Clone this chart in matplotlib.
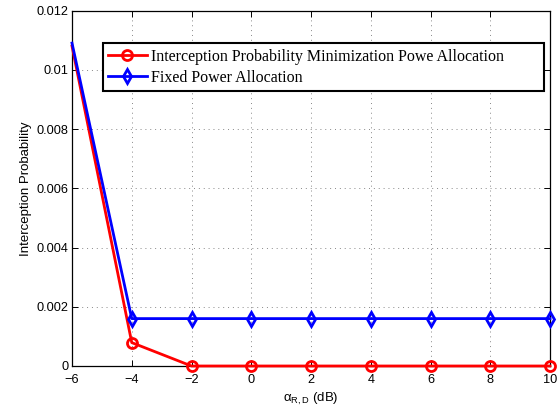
import matplotlib
matplotlib.use("Agg")
import matplotlib.pyplot as plt

x = [-6, -4, -2, 0, 2, 4, 6, 8, 10]
ip_min = [0.0108, 0.00079, 0, 0, 0, 0, 0, 0, 0]
fixed = [0.0109, 0.0016, 0.0016, 0.0016, 0.0016, 0.0016, 0.0016, 0.0016, 0.0016]
labels = ["Interception Probability Minimization Powe Allocation", "Fixed Power Allocation"]
xticks = [-6, -4, -2, 0, 2, 4, 6, 8, 10]
yticks = [0, 0.002, 0.004, 0.006, 0.008, 0.01, 0.012]
yticklabels = ["0", "0.002", "0.004", "0.006", "0.008", "0.01", "0.012"]

W, H = 560, 408
L, R, T, B = 72, 550, 10.5, 366

plt.rcParams['font.family'] = ['Liberation Sans', 'DejaVu Sans']
plt.rcParams['mathtext.fontset'] = 'custom'
plt.rcParams['mathtext.rm'] = 'Liberation Sans'
plt.rcParams['mathtext.it'] = 'Liberation Sans:italic'
fig = plt.figure(figsize=(W/100, H/100), dpi=100)
ax = fig.add_axes([L/W, 1-B/H, (R-L)/W, (B-T)/H])

ax.plot(x, ip_min, color='red', lw=2, marker='o', ms=7.2, mfc='none', mew=2,
        markevery=slice(1, None), label=labels[0], clip_on=False, zorder=3)
ax.plot(x, fixed, color='blue', lw=2, marker='d', ms=7.5, mfc='none', mew=2,
        markevery=slice(1, None), label=labels[1], clip_on=False, zorder=3)

ax.set_xlim(-6, 10)
ax.set_ylim(0, 0.012)
ax.set_xticks(xticks)
ax.set_xticklabels([str(v).replace('-', '\u2212') for v in xticks])
ax.set_yticks(yticks)
ax.set_yticklabels(yticklabels)
ax.tick_params(direction='in', labelsize=9.2, length=4.5, width=0.7, top=True, right=True)
ax.tick_params(axis='x', pad=6)
ax.tick_params(axis='y', pad=2.7)
ax.grid(True, linestyle=(0, (1, 4)), color='#888888', lw=0.7)
ax.set_xlabel('\u03b1$_{\\mathrm{R,D}}$ (dB)', fontsize=9.5, labelpad=3)
ax.set_ylabel('Interception Probability', fontsize=9.5, labelpad=3)
for s in ax.spines.values():
    s.set_linewidth(0.9)

x0 = (102.7 - L) / (R - L)
x1 = (544 - L) / (R - L)
ytop = 1 - (43.3 - T) / (B - T)
leg = ax.legend(loc='upper left', bbox_to_anchor=(x0, ytop - 0.2, x1 - x0, 0.2), mode='expand',
                prop={'family': ['Liberation Serif', 'DejaVu Serif'], 'size': 11.5},
                fancybox=False, framealpha=1, edgecolor='black',
                handlelength=2.4, handletextpad=0.3, borderpad=0.35,
                labelspacing=0.3, borderaxespad=0)
leg.get_frame().set_linewidth(1.5)

fig.savefig('out.png', dpi=100)
